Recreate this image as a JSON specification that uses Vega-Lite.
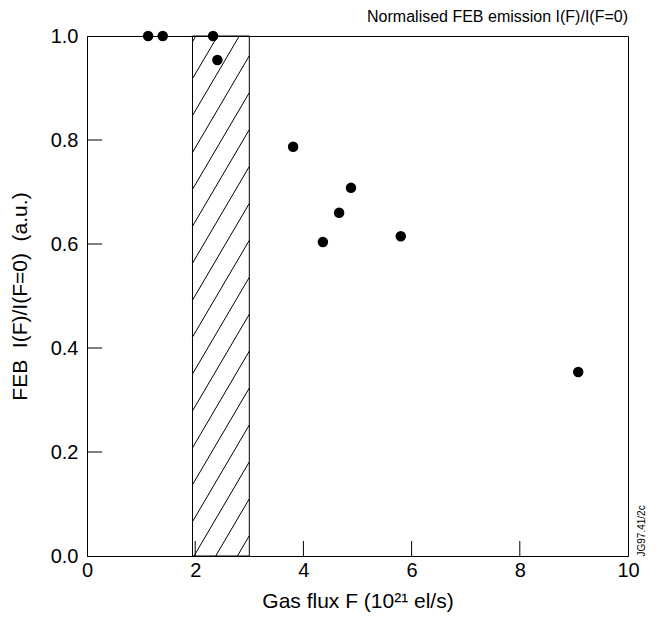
{
  "$schema": "https://vega.github.io/schema/vega-lite/v6.json",
  "width": 541,
  "height": 520,
  "autosize": "none",
  "padding": {"left": 87, "top": 36, "right": 32, "bottom": 63},
  "background": "white",
  "config": {
    "font": "Liberation Sans",
    "view": {"stroke": "black", "strokeWidth": 1, "fill": null},
    "axis": {
      "grid": false,
      "ticks": false,
      "domainColor": "black",
      "labelColor": "black",
      "titleColor": "black",
      "labelFontSize": 20,
      "titleFontSize": 21,
      "titleFontWeight": "normal"
    }
  },
  "title": {
    "text": "Normalised FEB emission I(F)/I(F=0)",
    "anchor": "end",
    "frame": "group",
    "fontSize": 16,
    "fontWeight": "normal",
    "color": "black",
    "offset": 1
  },
  "datasets": {
    "band": [{"x1": 1.95, "x2": 3.0, "y1": 0, "y2": 1}],
    "hatch": [
      {"xa": 2.780, "ya": 0, "xb": 3.0, "yb": 0.039},
      {"xa": 2.379, "ya": 0, "xb": 3.0, "yb": 0.110},
      {"xa": 1.978, "ya": 0, "xb": 3.0, "yb": 0.181},
      {"xa": 1.95, "ya": 0.066, "xb": 3.0, "yb": 0.252},
      {"xa": 1.95, "ya": 0.137, "xb": 3.0, "yb": 0.323},
      {"xa": 1.95, "ya": 0.208, "xb": 3.0, "yb": 0.394},
      {"xa": 1.95, "ya": 0.279, "xb": 3.0, "yb": 0.465},
      {"xa": 1.95, "ya": 0.350, "xb": 3.0, "yb": 0.536},
      {"xa": 1.95, "ya": 0.421, "xb": 3.0, "yb": 0.607},
      {"xa": 1.95, "ya": 0.492, "xb": 3.0, "yb": 0.678},
      {"xa": 1.95, "ya": 0.563, "xb": 3.0, "yb": 0.749},
      {"xa": 1.95, "ya": 0.634, "xb": 3.0, "yb": 0.820},
      {"xa": 1.95, "ya": 0.705, "xb": 3.0, "yb": 0.891},
      {"xa": 1.95, "ya": 0.776, "xb": 3.0, "yb": 0.962},
      {"xa": 1.95, "ya": 0.847, "xb": 2.815, "yb": 1.0},
      {"xa": 1.95, "ya": 0.918, "xb": 2.414, "yb": 1.0},
      {"xa": 1.95, "ya": 0.989, "xb": 2.012, "yb": 1.0}
    ],
    "xticks": [{"v": 2}, {"v": 4}, {"v": 6}, {"v": 8}],
    "yticks": [
      {"tx": 0, "tx2": 0.28, "w": 0.2},
      {"tx": 0, "tx2": 0.28, "w": 0.4},
      {"tx": 0, "tx2": 0.28, "w": 0.6},
      {"tx": 0, "tx2": 0.28, "w": 0.8}
    ],
    "points": [
      {"flux": 1.13, "feb": 1.0},
      {"flux": 1.40, "feb": 1.0},
      {"flux": 2.33, "feb": 1.0},
      {"flux": 2.41, "feb": 0.954},
      {"flux": 3.81, "feb": 0.787},
      {"flux": 4.36, "feb": 0.604},
      {"flux": 4.66, "feb": 0.66},
      {"flux": 4.88, "feb": 0.708},
      {"flux": 5.80, "feb": 0.615},
      {"flux": 9.08, "feb": 0.354}
    ]
  },
  "layer": [
    {
      "data": {"name": "band"},
      "mark": {"type": "rect", "filled": false, "stroke": "black", "strokeWidth": 1},
      "encoding": {
        "x": {
          "field": "x1", "type": "quantitative",
          "scale": {"domain": [0, 10], "nice": false, "zero": false},
          "axis": {
            "values": [0, 2, 4, 6, 8, 10],
            "format": "d",
            "labelFlush": false,
            "labelPadding": 4,
            "title": "Gas flux F (10²¹ el/s)",
            "titlePadding": 10
          }
        },
        "x2": {"field": "x2"},
        "y": {
          "field": "y1", "type": "quantitative",
          "scale": {"domain": [0, 1], "nice": false, "zero": false},
          "axis": {
            "values": [0, 0.2, 0.4, 0.6, 0.8, 1.0],
            "format": ".1f",
            "labelPadding": 9,
            "title": "FEB\u00a0\u00a0I(F)/I(F=0)\u00a0\u00a0(a.u.)",
            "titlePadding": 20
          }
        },
        "y2": {"field": "y2"}
      }
    },
    {
      "data": {"name": "hatch"},
      "mark": {"type": "rule", "color": "black", "strokeWidth": 1},
      "encoding": {
        "x": {"field": "xa", "type": "quantitative"},
        "y": {"field": "ya", "type": "quantitative", "axis": null},
        "x2": {"field": "xb"},
        "y2": {"field": "yb"}
      }
    },
    {
      "data": {"name": "yticks"},
      "mark": {"type": "rule", "color": "black", "strokeWidth": 1},
      "encoding": {
        "x": {"field": "tx", "type": "quantitative"},
        "y": {"field": "w", "type": "quantitative", "axis": null},
        "x2": {"field": "tx2"},
        "y2": {"field": "w"}
      }
    },
    {
      "data": {"name": "xticks"},
      "mark": {"type": "rule", "color": "black", "strokeWidth": 1, "y2Offset": -15},
      "encoding": {
        "x": {"field": "v", "type": "quantitative"},
        "y": {"datum": 0, "type": "quantitative", "axis": null},
        "y2": {"datum": 0}
      }
    },
    {
      "data": {"name": "points"},
      "mark": {"type": "circle", "size": 110, "color": "black", "opacity": 1},
      "encoding": {
        "x": {"field": "flux", "type": "quantitative"},
        "y": {
          "field": "feb", "type": "quantitative",
          "axis": {
            "orient": "right",
            "labels": false,
            "domain": false,
            "title": "JG97.41/2c",
            "titleFontSize": 10,
            "titleAngle": 270,
            "titleAnchor": "start",
            "titleBaseline": "top",
            "titlePadding": 8
          }
        }
      }
    }
  ],
  "resolve": {"axis": {"y": "independent"}}
}
